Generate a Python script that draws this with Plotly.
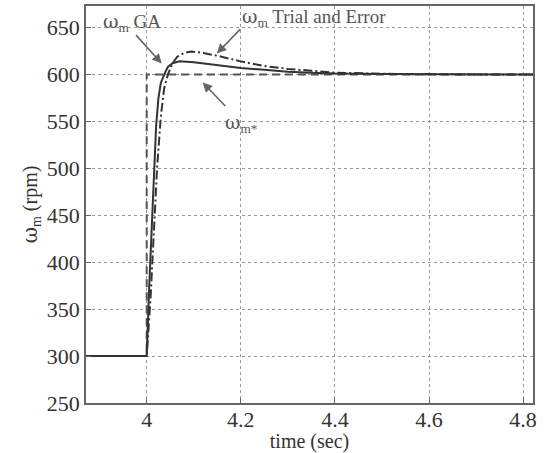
import plotly.graph_objects as go

# --- data ---
ref_t = [3.87, 4.0, 4.0, 4.83]
ref_w = [300, 300, 600, 600]

ga_t = [3.87, 4.0, 4.005, 4.01, 4.015, 4.02, 4.025, 4.03, 4.038, 4.045, 4.055, 4.07,
        4.1, 4.15, 4.2, 4.25, 4.3, 4.35, 4.4, 4.5, 4.6, 4.83]
ga_w = [300, 300, 370, 432, 492, 545, 575, 591, 601, 608, 612, 614,
        613, 610, 607, 605, 603, 602, 601, 600.5, 600.2, 600]

te_t = [3.87, 4.0, 4.008, 4.015, 4.022, 4.03, 4.037, 4.045, 4.055, 4.065, 4.08, 4.095,
        4.12, 4.15, 4.2, 4.25, 4.3, 4.35, 4.4, 4.5, 4.6, 4.83]
te_w = [300, 300, 360, 430, 500, 555, 585, 600, 612, 619, 623, 624.5,
        623, 620, 614, 609, 606, 604, 602, 600.8, 600.2, 600]

x_ticks = [4.0, 4.2, 4.4, 4.6, 4.8]
x_labels = ["4", "4.2", "4.4", "4.6", "4.8"]
y_ticks = [250, 300, 350, 400, 450, 500, 550, 600, 650]

FONT = "Liberation Serif"
OM = '<span style="font-family:DejaVu Serif">ω</span>'

fig = go.Figure()
fig.add_trace(go.Scatter(x=ref_t, y=ref_w, mode="lines",
                         line=dict(color="#555", width=2, dash="8px,5px")))
fig.add_trace(go.Scatter(x=te_t, y=te_w, mode="lines",
                         line=dict(color="#333", width=2, dash="9px,3px,2px,3px")))
fig.add_trace(go.Scatter(x=ga_t, y=ga_w, mode="lines",
                         line=dict(color="#333", width=2)))

# annotation texts
fig.add_annotation(x=3.968, y=655.3, text=OM + "<sub>m</sub> GA", showarrow=False,
                   font=dict(family=FONT, size=19, color="#555"))
fig.add_annotation(x=4.355, y=660.6, text=OM + "<sub>m</sub> Trial and Error", showarrow=False,
                   font=dict(family=FONT, size=19, color="#555"))
fig.add_annotation(x=4.202, y=547.9, text=OM + "<sub>m*</sub>", showarrow=False,
                   font=dict(family=FONT, size=19, color="#555"))
# arrows
for (hx, hy, tx, ty) in [(4.032, 611.7, 3.9745, 643.6),
                         (4.149, 622.3, 4.202, 650.0),
                         (4.119, 591.5, 4.170, 564.9)]:
    fig.add_annotation(x=hx, y=hy, ax=tx, ay=ty, axref="x", ayref="y", text="",
                       showarrow=True, arrowhead=2, arrowsize=1.2, arrowwidth=1.6,
                       arrowcolor="#666")

fig.update_layout(
    width=544, height=453, showlegend=False,
    margin=dict(l=86, r=11, t=4, b=50),
    paper_bgcolor="white", plot_bgcolor="white",
    font=dict(family=FONT, size=22, color="#333"),
)
fig.update_xaxes(range=[3.871, 4.821], tickvals=x_ticks, ticktext=x_labels,
                 showgrid=True, gridcolor="#999", griddash="dot", gridwidth=1,
                 showline=True, linecolor="#666", linewidth=1.5, mirror=True,
                 ticks="inside", ticklen=5, tickcolor="#666", zeroline=False,
                 ticklabelstandoff=-4,
                 title=dict(text="time (sec)", standoff=0, font=dict(size=20)))
fig.update_yaxes(range=[250, 673], tickvals=y_ticks,
                 showgrid=True, gridcolor="#999", griddash="dot", gridwidth=1,
                 showline=True, linecolor="#666", linewidth=1.5, mirror=True,
                 ticks="inside", ticklen=5, tickcolor="#666", zeroline=False,
                 title=dict(text=OM + "<sub>m</sub> (rpm)", standoff=4, font=dict(size=20)))

fig.write_html("out.html")
